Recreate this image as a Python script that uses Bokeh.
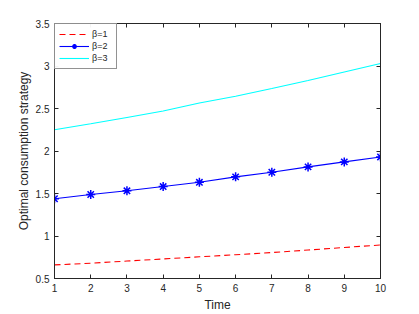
from bokeh.plotting import figure
from bokeh.models import LinearAxis, FixedTicker, Range1d, Legend, LegendItem
from bokeh.embed import file_html
from bokeh.resources import INLINE

time = [1, 2, 3, 4, 5, 6, 7, 8, 9, 10]
beta1 = [0.66, 0.68, 0.705, 0.73, 0.755, 0.78, 0.805, 0.835, 0.865, 0.894]
beta2 = [1.438, 1.488, 1.532, 1.582, 1.632, 1.696, 1.75, 1.813, 1.872, 1.93]
beta3 = [2.25, 2.32, 2.395, 2.47, 2.565, 2.645, 2.735, 2.83, 2.93, 3.03]
labels = ["β=1", "β=2", "β=3"]
xticks = [1, 2, 3, 4, 5, 6, 7, 8, 9, 10]
yticks = [0.5, 1, 1.5, 2, 2.5, 3, 3.5]

FONT = "Liberation Sans"
AX = "#262626"

p = figure(width=419, height=314, output_backend="svg", toolbar_location=None,
           x_range=Range1d(1, 10), y_range=Range1d(0.5, 3.5),
           min_border_left=54, min_border_right=39, min_border_top=23, min_border_bottom=35)
p.grid.visible = False
p.outline_line_color = AX
p.background_fill_color = "white"

l1 = p.line(time, beta1, line_color="red", line_dash="6 4", line_width=1.1)
l2 = p.line(time, beta2, line_color="blue", line_width=1.1)
m2 = p.scatter(time, beta2, marker="asterisk", size=9, line_color="blue", line_width=1.5)
l3 = p.line(time, beta3, line_color="cyan", line_width=1.1)

overrides = {1: "1", 2: "2", 3: "3"}
for ax in p.xaxis + p.yaxis:
    ax.major_tick_in = 4
    ax.major_tick_out = 0
    ax.minor_tick_in = 0
    ax.minor_tick_out = 0
    ax.axis_line_color = AX
    ax.major_tick_line_color = AX
    ax.major_label_text_font = FONT
    ax.major_label_text_font_size = "10px"
    ax.major_label_text_color = AX
    ax.axis_label_text_font = FONT
    ax.axis_label_text_font_size = "12px"
    ax.axis_label_text_font_style = "normal"
    ax.axis_label_text_color = AX
p.xaxis.ticker = FixedTicker(ticks=xticks)
p.yaxis.ticker = FixedTicker(ticks=yticks)
p.yaxis.major_label_overrides = overrides
p.xaxis.axis_label = "Time"
p.yaxis.axis_label = "Optimal consumption strategy"
p.xaxis.axis_label_standoff = 3
p.yaxis.axis_label_standoff = 2
p.xaxis.major_label_standoff = 5
p.yaxis.major_label_standoff = 5

for loc, ticks in (("above", xticks), ("right", yticks)):
    a = LinearAxis(ticker=FixedTicker(ticks=ticks))
    a.major_tick_in = 4
    a.major_tick_out = 0
    a.minor_tick_in = 0
    a.minor_tick_out = 0
    a.axis_line_color = AX
    a.major_tick_line_color = AX
    a.major_label_overrides = {t: "" for t in ticks}
    a.major_label_standoff = 0
    p.add_layout(a, loc)

legend = Legend(items=[
    LegendItem(label=labels[0], renderers=[l1]),
    LegendItem(label=labels[1], renderers=[l2, m2]),
    LegendItem(label=labels[2], renderers=[l3]),
], location="top_left")
legend.margin = 0
legend.padding = 4
legend.spacing = 0
legend.border_line_color = AX
legend.border_line_width = 1
legend.label_text_font = FONT
legend.label_text_font_size = "9px"
legend.label_text_color = AX
legend.glyph_width = 30
legend.glyph_height = 12
legend.label_height = 12
legend.label_standoff = 3
p.add_layout(legend)

open("out.html", "w").write(file_html(p, INLINE))
